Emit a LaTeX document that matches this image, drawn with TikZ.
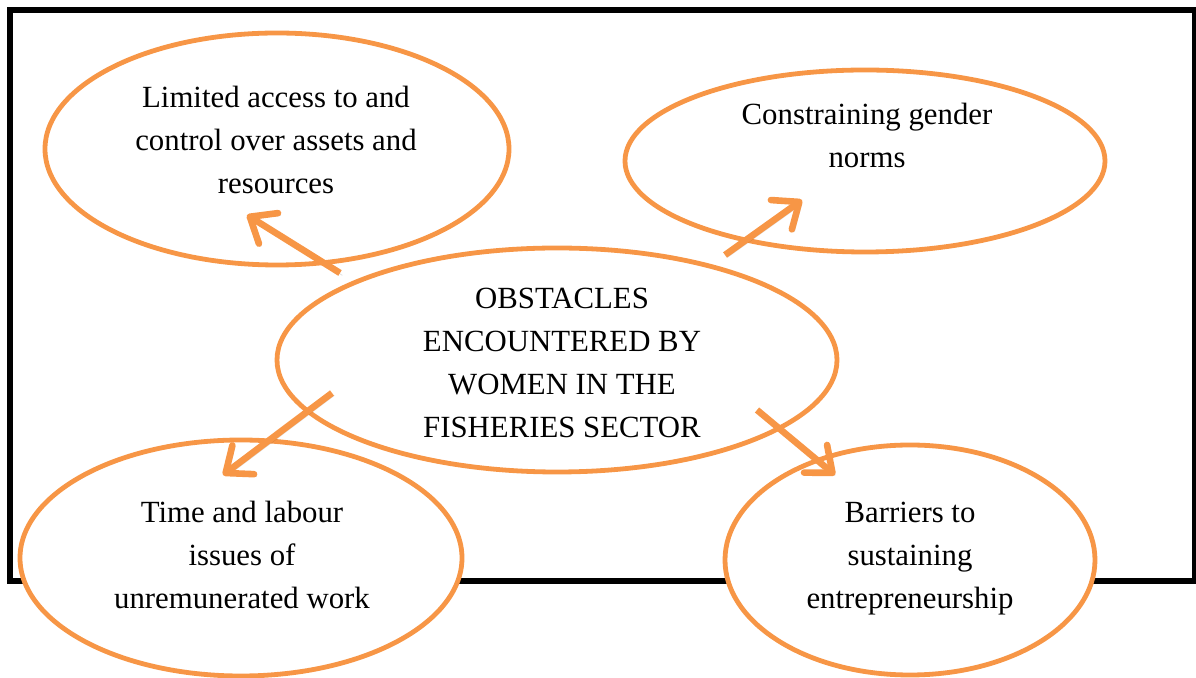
\documentclass[tikz,border=0pt]{standalone}
\usepackage{fontspec}
\setmainfont{Liberation Serif}
\usetikzlibrary{arrows.meta,shapes.geometric}
\definecolor{fishorange}{HTML}{F79646}

\begin{document}
\begin{tikzpicture}[x=0.5pt,y=-0.5pt,
  oval/.style={ellipse,draw=fishorange,line width=2.4pt,inner sep=0pt},
  txt/.style={align=center,font=\fontsize{15.4}{21.5}\selectfont,inner sep=0pt},
  arr/.style={draw=fishorange,line width=3.3pt,-{Straight Barb[length=11pt,width=18pt,round]},
    preaction={draw=black,opacity=0.12,transform canvas={shift={(1.2pt,-1.2pt)}}}}]
\useasboundingbox (0,0) rectangle (1196,678);
%%frame
\draw[line width=2.8pt] (10,10) rectangle (1194.5,581);
%%ovals
\node[oval,fill=white,minimum width=221pt,minimum height=118pt] (timeOval) at (241,558) {};
\node[oval,fill=white,minimum width=185pt,minimum height=115pt] (barrierOval) at (910,560) {};
\node[oval,minimum width=232pt,minimum height=116pt] (accessOval) at (277,149) {};
\node[oval,minimum width=240pt,minimum height=91pt] (genderOval) at (865,161) {};
\node[oval,minimum width=280pt,minimum height=112pt] (obstacleOval) at (557,360) {};
%%texts
\node[txt] (access) at (276,140) {Limited access to and\\control over assets and\\resources};
\node[txt] (gender) at (867,135) {Constraining gender\\norms};
\node[txt] (obstacles) at (562,363) {OBSTACLES\\ENCOUNTERED BY\\WOMEN IN THE\\FISHERIES SECTOR};
\node[txt] (time) at (242,555) {Time and labour\\issues of\\unremunerated work};
\node[txt] (barriers) at (910,559) {Barriers to\\sustaining\\entrepreneurship};
%%arrows
\coordinate (accessTail) at (340,273);
\coordinate (accessTip) at (247,215);
\coordinate (genderTail) at (725,255);
\coordinate (genderTip) at (802,200);
\coordinate (timeTail) at (332,393);
\coordinate (timeTip) at (223,475);
\coordinate (barrierTail) at (757,410);
\coordinate (barrierTip) at (835,475);
\draw[arr] (accessTail) -- (accessTip);
\draw[arr] (genderTail) -- (genderTip);
\draw[arr] (timeTail) -- (timeTip);
\draw[arr] (barrierTail) -- (barrierTip);
\end{tikzpicture}
\end{document}
